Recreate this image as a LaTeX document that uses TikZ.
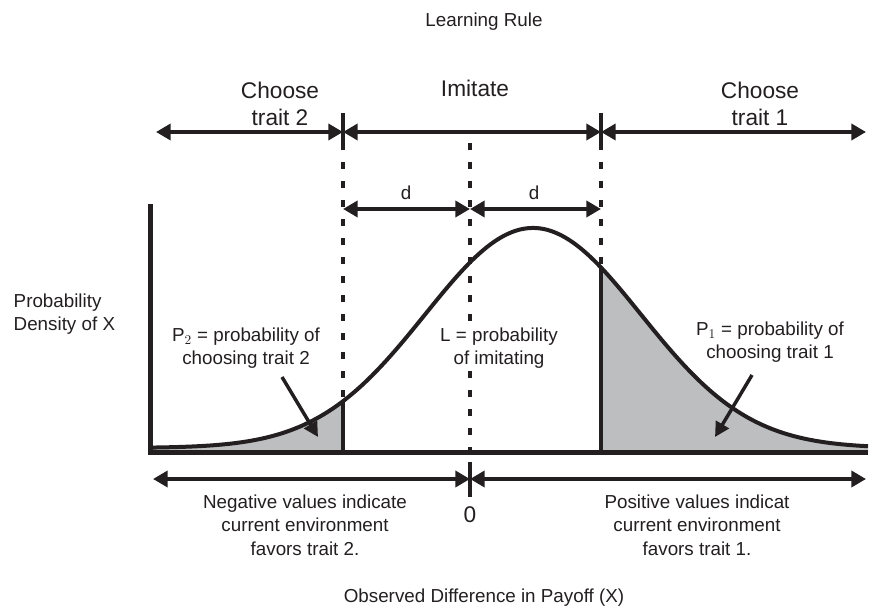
\documentclass[tikz,border=0pt]{standalone}
\usepackage{fontspec}
\setmainfont{Liberation Sans}
\usetikzlibrary{arrows.meta}

\definecolor{ink}{RGB}{35,31,32}
\definecolor{tailgray}{RGB}{188,190,192}
\newcommand{\lblfont}{\fontsize{14.1}{17.5}\selectfont}
\newcommand{\hdfont}{\fontsize{17}{20.3}\selectfont}

\begin{document}
\begin{tikzpicture}[x=0.75pt,y=-0.75pt,ink,
    declare function={dens(\t)=448-220*exp(-0.5*pow((\t-533)/108,2));},
    twoway/.style={line width=3pt,{Triangle[length=11pt,width=12pt]}-{Triangle[length=11pt,width=12pt]}},
    pointer/.style={line width=2.6pt,-{Triangle[length=11pt,width=11pt]}},
    guide/.style={line width=2.5pt,dash pattern=on 5.25pt off 9pt},
    lbl/.style={font=\lblfont,align=center,text=ink},
    hd/.style={font=\hdfont,align=center,text=ink}]
    \useasboundingbox (0,0) rectangle (873,616);

    % shaded tails
    \fill[tailgray] (150,452) -- plot[domain=150:343,samples=40] (\x,{dens(\x)}) -- (343,452) -- cycle;
    \fill[tailgray] (601,452) -- plot[domain=601:868,samples=50] (\x,{dens(\x)}) -- (868,452) -- cycle;

    % density and axes
    \draw[line width=3pt] plot[domain=150:868,samples=150,smooth] (\x,{dens(\x)});
    \foreach \cx in {343,601}
        \draw[line width=2.6pt] (\cx,{dens(\cx)}) -- (\cx,452);
    \draw[line width=3.75pt] (150,204) -- (150,452) -- (868,452);

    % cut-off lines
    \foreach \cx in {343,601} {
        \draw[guide] (\cx,143) -- (\cx,{dens(\cx)});
        \draw[line width=2.5pt] (\cx,113) -- (\cx,143);
    }
    \draw[guide] (470,143) -- (470,452);
    \draw[line width=2.5pt] (470,462) -- (470,497);

    \coordinate (topL) at (156,132);
    \coordinate (cut2) at (343,132);
    \coordinate (cut1) at (601,132);
    \coordinate (topR) at (866,132);
    \coordinate (dL) at (343,209);
    \coordinate (dM) at (470,209);
    \coordinate (dR) at (601,209);
    \coordinate (botL) at (153,479);
    \coordinate (botM) at (470,479);
    \coordinate (botR) at (866,479);

    \draw[twoway] (topL) -- (cut2);
    \draw[twoway] (cut2) -- (cut1);
    \draw[twoway] (cut1) -- (topR);
    \draw[twoway] (dL) -- (dM);
    \draw[twoway] (dM) -- (dR);
    \draw[twoway] (botL) -- (botM);
    \draw[twoway] (botM) -- (botR);

    % labels
    \node[lbl] (title) at (484,22) {Learning Rule};
    \node[hd] (ch2) at (280,104) {Choose\\trait 2};
    \node[hd] (imit) at (475,88) {Imitate};
    \node[hd] (ch1) at (760,104) {Choose\\trait 1};
    \node[lbl] (d1) at (406,193) {d};
    \node[lbl] (d2) at (534,193) {d};
    \node[lbl,align=left,anchor=west] (ylab) at (9,314) {Probability\\Density of X};
    \node[lbl] (p2) at (246,348) {P$_2$ = probability of\\choosing trait 2};
    \node[lbl,fill=white,inner sep=1pt] (imL) at (499,348) {L = probability\\of imitating};
    \node[lbl] (p1) at (770,342) {P$_1$ = probability of\\choosing trait 1};
    \node[hd] (zero) at (470,515) {0};
    \node[lbl] (neg) at (305,525) {Negative values indicate\\current environment\\favors trait 2.};
    \node[lbl] (pos) at (697,525) {Positive values indicat\\current environment\\favors trait 1.};
    \node[lbl] (xlab) at (484,598) {Observed Difference in Payoff (X)};

    \coordinate (p2tail) at (282,377);
    \coordinate (p2tip) at (318,437);
    \coordinate (p1tail) at (752,375);
    \coordinate (p1tip) at (715,437);
    \draw[pointer] (p2tail) -- (p2tip);
    \draw[pointer] (p1tail) -- (p1tip);
\end{tikzpicture}
\end{document}
